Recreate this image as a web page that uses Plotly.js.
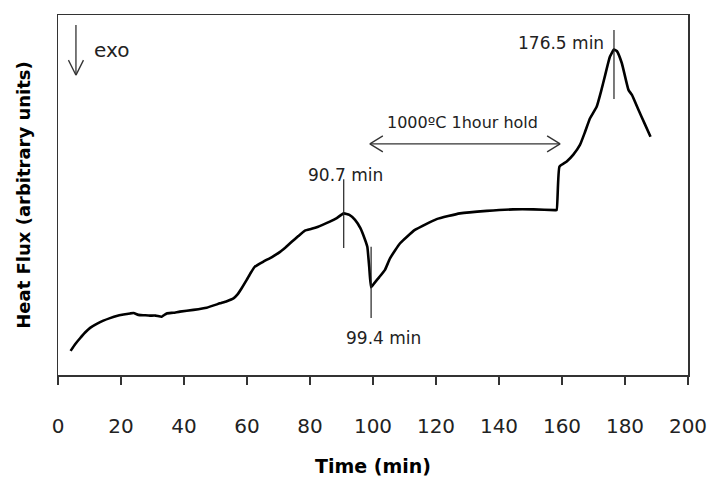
<!DOCTYPE html>
<html>
<head>
<meta charset="utf-8">
<script src="https://cdn.plot.ly/plotly-3.0.1.min.js"></script>
<style>html,body{margin:0;padding:0;background:#fff;}#chart{width:712px;height:482px;}</style>
</head>
<body>
<div id="chart"></div>
<script>
// Time (min) and heat flux (arbitrary units)
const timeMin = [4.0, 5.5, 7.0, 8.6, 10.2, 12.3, 14.4, 16.5, 18.6, 20.8, 22.9, 24.0, 25.5, 27.4, 29.2, 31.0, 32.9, 33.6, 34.5, 36.6, 38.7, 43.0, 47.2, 51.4, 53.6, 55.7, 57.0, 58.3, 59.9, 61.2, 62.5, 65.2, 67.8, 70.5, 72.3, 74.2, 76.3, 78.4, 80.5, 82.6, 84.5, 86.3, 88.5, 90.7, 92.5, 94.3, 96.0, 97.5, 98.2, 98.8, 99.4, 100.5, 102.0, 103.8, 105.4, 108.6, 113.3, 120.2, 127.6, 136.1, 144.5, 151.0, 157.8, 158.3, 159.2, 161.5, 163.6, 165.7, 167.3, 168.9, 171.0, 172.4, 173.7, 175.2, 176.5, 177.4, 179.0, 181.1, 182.2, 184.3, 186.2, 188.1];
const heatFlux = [6.7, 8.6, 10.2, 11.8, 13.1, 14.2, 15.1, 15.8, 16.4, 16.8, 17.1, 17.2, 16.7, 16.6, 16.5, 16.5, 16.2, 16.6, 17.1, 17.3, 17.6, 18.1, 18.7, 19.9, 20.5, 21.3, 22.4, 24.1, 26.4, 28.4, 30.1, 31.5, 32.7, 34.2, 35.5, 37.0, 38.6, 40.1, 40.6, 41.2, 41.9, 42.6, 43.6, 44.9, 44.5, 43.1, 40.8, 37.5, 35.6, 30.0, 24.4, 25.6, 27.2, 29.2, 32.4, 36.6, 40.3, 43.3, 44.9, 45.6, 46.0, 46.0, 45.8, 45.8, 57.9, 59.3, 61.2, 63.9, 67.5, 71.3, 74.5, 78.8, 83.3, 88.4, 90.4, 90.0, 86.6, 79.2, 77.8, 73.6, 69.9, 66.2];

// Marked events
const eventTimes = [90.7, 99.4, 176.5];
const eventLabels = ['90.7 min', '99.4 min', '176.5 min'];
const holdStart = 99.0, holdEnd = 159.4;
const holdLabel = '1000ºC 1hour hold';
const xTickVals = [0, 20, 40, 60, 80, 100, 120, 140, 160, 180, 200];
const xTickText = ['0', '20', '40', '60', '80', '100', '120', '140', '160', '180', '200'];

const txt = '#222';
const font = 'DejaVu Sans, Verdana, sans-serif';

const trace = {
  x: timeMin, y: heatFlux, type: 'scatter', mode: 'lines',
  line: {color: '#000', width: 2.6, shape: 'spline', smoothing: 0.4}, hoverinfo: 'skip', showlegend: false
};

// vertical marker spans [top, bottom] in y units
const markerSpans = [[54.4, 35.3], [35.6, 15.8], [95.8, 76.7]];
const shapes = eventTimes.map((t, i) => ({
  type: 'line', xref: 'x', yref: 'y', x0: t, x1: t,
  y0: markerSpans[i][0], y1: markerSpans[i][1],
  line: {color: '#222', width: 1.2}
}));

const holdY = 64.2;
const gray = '#333';
function chevron(xa, ya, dx1, dy1, dx2, dy2) {
  return [
    {type: 'line', xref: 'x', yref: 'y', xsizemode: 'pixel', ysizemode: 'pixel', xanchor: xa, yanchor: ya, x0: 0, y0: 0, x1: dx1, y1: dy1, line: {color: gray, width: 1.3}},
    {type: 'line', xref: 'x', yref: 'y', xsizemode: 'pixel', ysizemode: 'pixel', xanchor: xa, yanchor: ya, x0: 0, y0: 0, x1: dx2, y1: dy2, line: {color: gray, width: 1.3}}
  ];
}
shapes.push({type: 'line', xref: 'x', yref: 'y', x0: holdStart, x1: holdEnd, y0: holdY, y1: holdY, line: {color: gray, width: 1.3}});
shapes.push(...chevron(holdStart, holdY, 13, 8, 13, -8));
shapes.push(...chevron(holdEnd, holdY, -13, 8, -13, -8));
// exo arrow
const exoX = 5.7, exoTop = 97.2, exoTip = 83.3;
shapes.push({type: 'line', xref: 'x', yref: 'y', x0: exoX, x1: exoX, y0: exoTop, y1: exoTip, line: {color: gray, width: 1.3}});
shapes.push(...chevron(exoX, exoTip, -7.5, 15, 7.5, 15));

const annotations = [
  {x: 91.4, y: 55.6, text: eventLabels[0], showarrow: false, xanchor: 'center', yanchor: 'middle', font: {family: font, size: 17, color: txt}},
  {x: 103.2, y: 10.3, text: eventLabels[1], showarrow: false, xanchor: 'center', yanchor: 'middle', font: {family: font, size: 17, color: txt}},
  {x: 159.7, y: 92.3, text: eventLabels[2], showarrow: false, xanchor: 'center', yanchor: 'middle', font: {family: font, size: 17, color: txt}},
  {x: 128.3, y: 70.1, text: holdLabel, showarrow: false, xanchor: 'center', yanchor: 'middle', font: {family: font, size: 16, color: txt}},
  {x: 10.8, y: 90.3, text: 'exo', showarrow: false, xanchor: 'left', yanchor: 'middle', font: {family: font, size: 20, color: txt}}
];

const layout = {
  width: 712, height: 482,
  margin: {l: 58, r: 24, t: 15, b: 107},
  paper_bgcolor: '#fff', plot_bgcolor: '#fff',
  showlegend: false,
  xaxis: {
    range: [0, 200], tickvals: xTickVals, ticktext: xTickText,
    ticks: 'outside', ticklen: 8, tickwidth: 1.5, tickcolor: '#333',
    showline: true, linecolor: '#333', linewidth: 1.5, mirror: true,
    showgrid: false, zeroline: false,
    tickfont: {family: font, size: 20, color: txt},
    ticklabelstandoff: 24,
    title: {text: '<b>Time (min)</b>', font: {family: font, size: 19, color: '#000'}, standoff: 23}
  },
  yaxis: {
    range: [0, 100], showticklabels: false, ticks: '',
    showline: true, linecolor: '#333', linewidth: 1.5, mirror: true,
    showgrid: false, zeroline: false,
    title: {text: '<b>Heat Flux (arbitrary units)</b>', font: {family: font, size: 18, color: '#000'}, standoff: 21}
  },
  shapes: shapes,
  annotations: annotations
};

Plotly.newPlot('chart', [trace], layout, {displayModeBar: false, staticPlot: true});
</script>
</body>
</html>
